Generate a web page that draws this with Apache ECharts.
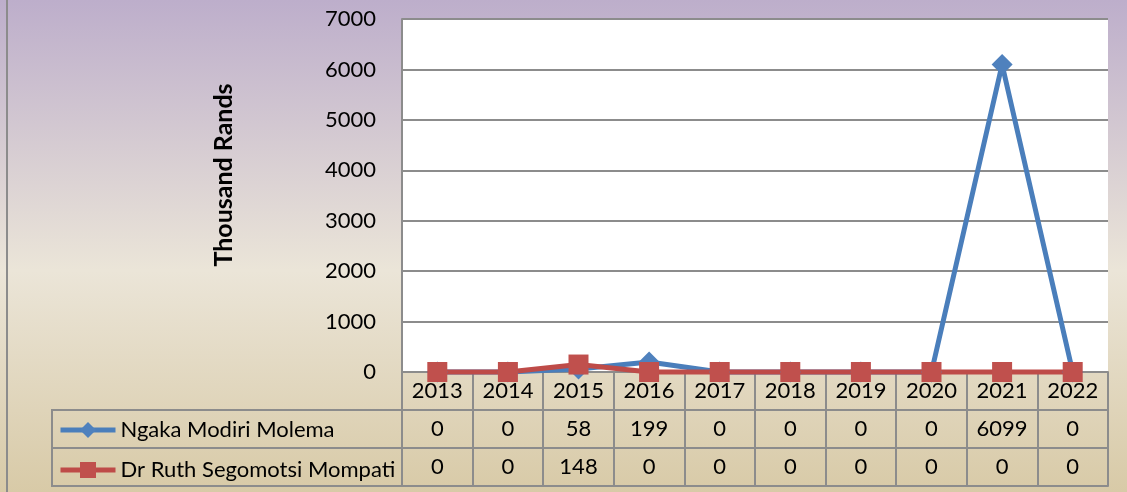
<!DOCTYPE html>
<html>
<head>
<meta charset="utf-8">
<script src="https://cdn.jsdelivr.net/npm/echarts@6/dist/echarts.min.js"></script>
<style>
html,body{margin:0;padding:0;}
#c{width:1127px;height:492px;}
</style>
</head>
<body>
<div id="c"></div>
<script>
const years = ['2013','2014','2015','2016','2017','2018','2019','2020','2021','2022'];
const seriesNames = ['Ngaka Modiri Molema','Dr Ruth Segomotsi Mompati'];
const ngakaValues = [0,0,58,199,0,0,0,0,6099,0];
const ruthValues = [0,0,148,0,0,0,0,0,0,0];
const yTicks = {min:0, max:7000, interval:1000};
const yTitle = 'Thousand Rands';

const FONT = 'Lato';
const FS = 22;
const GRAY = '#8c8c8c';
const chart = echarts.init(document.getElementById('c'), null, {renderer:'canvas'});

function tableAxis(data, offset, showTicks){
  return {
    type:'category', data:data, position:'bottom', offset:offset, boundaryGap:true,
    axisLine:{show:true, lineStyle:{color:GRAY, width:2}},
    axisTick:{show:showTicks, interval:0, length:114, lineStyle:{color:GRAY, width:2}},
    axisLabel:{interval:0, margin:19, verticalAlign:'middle', fontFamily:FONT, fontSize:FS, color:'#000'},
    splitLine:{show:false}
  };
}

chart.setOption({
  backgroundColor:{type:'linear', x:0, y:0, x2:0, y2:1, colorStops:[
    {offset:0, color:'#bdaecb'},
    {offset:0.55, color:'#ebe5d8'},
    {offset:1, color:'#d8caa7'}
  ]},
  animation:false,
  grid:{left:402, right:19, top:19, bottom:120, show:true, backgroundColor:'#ffffff', borderWidth:0},
  legend:{
    orient:'vertical', left:58, top:419, padding:0, itemGap:18, itemWidth:55, itemHeight:20,
    data:seriesNames,
    lineStyle:{width:5},
    textStyle:{fontFamily:FONT, fontSize:FS, color:'#000', lineHeight:20}
  },
  xAxis:[
    tableAxis(years, 0, true),
    tableAxis(ngakaValues.map(String), 38, false),
    tableAxis(ruthValues.map(String), 76, false),
    Object.assign(tableAxis(years, 114, false), {axisLabel:{show:false}})
  ],
  yAxis:{
    type:'value', min:yTicks.min, max:yTicks.max, interval:yTicks.interval,
    axisLine:{show:true, lineStyle:{color:GRAY, width:2}},
    axisTick:{show:false},
    axisLabel:{margin:26, fontFamily:FONT, fontSize:FS, color:'#000', formatter:function(v){return String(v);}},
    splitLine:{show:true, lineStyle:{color:GRAY, width:2}}
  },
  graphic:[
    {type:'line', shape:{x1:7, y1:0, x2:7, y2:492}, style:{stroke:GRAY, lineWidth:2}, z:100},
    {type:'rect', shape:{x:52, y:410, width:350, height:76}, style:{fill:null, stroke:GRAY, lineWidth:2}, z:100},
    {type:'line', shape:{x1:52, y1:448, x2:402, y2:448}, style:{stroke:GRAY, lineWidth:2}, z:100},
    {type:'text', x:224, y:175, rotation:Math.PI/2,
     style:{text:yTitle, fontFamily:FONT, fontWeight:'bold', fontSize:25, fill:'#000', textAlign:'center', textVerticalAlign:'middle'}, z:100}
  ],
  series:[
    {name:seriesNames[0], type:'line', data:ngakaValues, xAxisIndex:0,
     symbol:'diamond', symbolSize:21, clip:false,
     lineStyle:{color:'#4a7ebb', width:5}, itemStyle:{color:'#4f81bd'}},
    {name:seriesNames[1], type:'line', data:ruthValues, xAxisIndex:0,
     symbol:'rect', symbolSize:20, clip:false,
     lineStyle:{color:'#be4b48', width:5}, itemStyle:{color:'#c0504d'}}
  ]
});
</script>
</body>
</html>
